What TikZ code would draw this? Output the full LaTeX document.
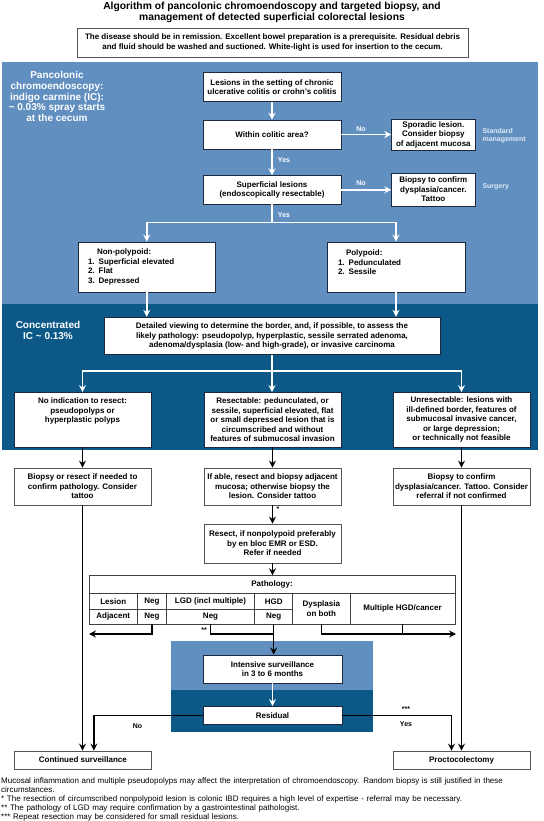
\documentclass[tikz,border=0pt]{standalone}
\usepackage{fontspec}
\setmainfont{Liberation Sans}
\usetikzlibrary{arrows.meta}
\definecolor{lightblu}{RGB}{97,143,192}
\definecolor{darkblu}{RGB}{12,89,135}
\definecolor{navyb}{RGB}{30,40,60}
\definecolor{grayb}{RGB}{85,85,85}
\definecolor{labblu}{RGB}{222,233,245}
\newcommand\bxfont{\fontsize{8}{9.5}\selectfont\bfseries}
\newcommand\lbfont{\fontsize{7}{8.5}\selectfont\bfseries}
\newcommand\blabfont{\fontsize{10}{10.8}\selectfont\bfseries}
\tikzset{
 bx/.style={draw=navyb, line width=0.9pt, fill=white, align=center, font=\bxfont, inner sep=1pt},
 gbx/.style={bx, draw=grayb},
 warr/.style={draw=white, line width=1.7pt, -{Stealth[length=7pt,width=7pt,inset=2.5pt]}},
 wln/.style={draw=white, line width=1.7pt},
 barr/.style={draw=black, line width=1.3pt, -{Stealth[length=7pt,width=7pt,inset=2.5pt]}},
 bln/.style={draw=black, line width=1.3pt},
 wlab/.style={text=white, font=\blabfont, align=center},
 slab/.style={text=white, font=\lbfont},
 klab/.style={text=black, font=\lbfont},
 cell/.style={draw=black!75, line width=0.7pt, fill=white, font=\bxfont, inner sep=0pt, align=center},
}
\begin{document}
\begin{tikzpicture}[x=1pt,y=-1pt]
\useasboundingbox (0,0) rectangle (543,821);
% background bands
\fill[lightblu] (2,62) rectangle (538,304);
\fill[darkblu] (2,304) rectangle (538,450);
\fill[lightblu] (171,641) rectangle (373,690);
\fill[darkblu] (171,690) rectangle (373,732);
% title and note
\node[font=\fontsize{10.3}{11}\selectfont\bfseries, align=center] (title) at (272,12)
 {Algorithm of pancolonic chromoendoscopy and targeted biopsy, and\\management of detected superficial colorectal lesions};
\node[gbx, minimum width=391pt, minimum height=29pt] (note) at (272.5,42.5)
 {The disease should be in remission. Excellent bowel preparation is a prerequisite. Residual debris\\and fluid should be washed and suctioned. White-light is used for insertion to the cecum.};
% side labels
\node[wlab] (pancol) at (57,96.5) {Pancolonic\\chromoendoscopy:\\indigo carmine (IC):\\\textasciitilde{} 0.03\% spray starts\\at the cecum};
\node[wlab] (conc) at (48,330.4) {Concentrated\\IC \textasciitilde{} 0.13\%};
% upper boxes
\node[bx, minimum width=138pt, minimum height=29pt] (lesions) at (272,87.2)
 {Lesions in the setting of chronic\\ulcerative colitis or crohn's colitis};
\node[bx, minimum width=138pt, minimum height=29pt] (within) at (272,134.5) {Within colitic area?};
\node[bx, minimum width=138pt, minimum height=28.3pt] (superficial) at (272,189.85)
 {Superficial lesions\\(endoscopically resectable)};
\node[bx, minimum width=83.3pt, minimum height=31.7pt] (sporadic) at (433.35,134.85)
 {Sporadic lesion.\\Consider biopsy\\of adjacent mucosa};
\node[bx, minimum width=83.3pt, minimum height=33pt] (biopsyT) at (433.35,189.5)
 {Biopsy to confirm\\dysplasia/cancer.\\Tattoo};
\node[slab, text=labblu, anchor=west, align=left] (stdm) at (479,135.5) {Standard\\management};
\node[slab, text=labblu, anchor=west] (surg) at (479,187) {Surgery};
\node[slab] (no1) at (361,129) {No};
\node[slab] (no2) at (361,183.5) {No};
\node[slab] (yes1) at (284,160) {Yes};
\node[slab] (yes2) at (284,215) {Yes};
\node[bx, align=left, text width=117.5pt, inner xsep=10pt, minimum height=50pt] (nonpoly) at (146.75,267)
 {\hspace*{9pt}Non-polypoid:\\1. Superficial elevated\\2. Flat\\3. Depressed};
\node[bx, align=left, text width=116pt, inner xsep=11pt, minimum height=50pt] (poly) at (396,267)
 {\hspace*{8pt}Polypoid:\\1. Pedunculated\\2. Sessile\\\mbox{}};
% concentrated zone
\node[bx, minimum width=336pt, minimum height=37.5pt] (detailed) at (272,336)
 {Detailed viewing to determine the border, and, if possible, to assess the\\likely pathology: pseudopolyp, hyperplastic, sessile serrated adenoma,\\adenoma/dysplasia (low- and high-grade), or invasive carcinoma};
\node[bx, minimum width=137pt, minimum height=54.5pt] (noind) at (82.5,419.75)
 {No indication to resect:\\pseudopolyps or\\hyperplastic polyps\\\mbox{}\\\mbox{}};
\node[bx, minimum width=137pt, minimum height=54.5pt] (resect1) at (272.5,419.75)
 {Resectable: pedunculated, or\\sessile, superficial elevated, flat\\or small depressed lesion that is\\circumscribed and without\\features of submucosal invasion};
\node[bx, minimum width=137pt, minimum height=54.5pt] (unres) at (461.5,419.75)
 {Unresectable: lesions with\\ill-defined border, features of\\submucosal invasive cancer,\\or large depression;\\or technically not feasible};
% lower boxes
\node[gbx, minimum width=137pt, minimum height=37pt] (biopsy1) at (82.5,486.5)
 {Biopsy or resect if needed to\\confirm pathology. Consider\\tattoo};
\node[gbx, minimum width=137pt, minimum height=37pt] (ifable) at (272.5,486.5)
 {If able, resect and biopsy adjacent\\mucosa; otherwise biopsy the\\lesion. Consider tattoo};
\node[gbx, minimum width=137pt, minimum height=37pt] (biopsy3) at (461.5,486.5)
 {Biopsy to confirm\\dysplasia/cancer. Tattoo. Consider\\referral if not confirmed};
\node[gbx, minimum width=137pt, minimum height=39pt] (resect2) at (272.5,543.5)
 {Resect, if nonpolypoid preferably\\by en bloc EMR or ESD.\\Refer if needed};
\node[klab] (star1) at (278,509) {*};
% pathology table
\node[cell, minimum width=366pt, minimum height=17.4pt] (ptitle) at (272,584.3) {Pathology:};
\node[cell, minimum width=48.5pt, minimum height=16.5pt] (tlesion) at (113.25,601.25) {Lesion};
\node[cell, minimum width=29pt, minimum height=16.5pt] (tneg1) at (152,601.25) {Neg};
\node[cell, minimum width=88.1pt, minimum height=16.5pt] (tlgd) at (210.55,601.25) {LGD (incl multiple)};
\node[cell, minimum width=38.1pt, minimum height=16.5pt] (thgd) at (273.65,601.25) {HGD};
\node[cell, minimum width=48.5pt, minimum height=14.5pt] (tadj) at (113.25,616.75) {Adjacent};
\node[cell, minimum width=29pt, minimum height=14.5pt] (tneg2) at (152,616.75) {Neg};
\node[cell, minimum width=88.1pt, minimum height=14.5pt] (tneg3) at (210.55,616.75) {Neg};
\node[cell, minimum width=38.1pt, minimum height=14.5pt] (tneg4) at (273.65,616.75) {Neg};
\node[cell, minimum width=57.3pt, minimum height=31pt] (tdysp) at (321.35,608.5) {Dysplasia\\on both};
\node[cell, minimum width=105pt, minimum height=31pt] (tmulti) at (402.5,608.5) {Multiple HGD/cancer};
\node[klab] (star2) at (204,630) {**};
% surveillance zone
\node[bx, minimum width=139pt, minimum height=28pt] (intensive) at (272.5,669)
 {Intensive surveillance\\in 3 to 6 months};
\node[bx, minimum width=139pt, minimum height=17.5pt] (residual) at (272.5,715.25) {Residual};
\node[klab] (no3) at (137.5,726) {No};
\node[klab] (yes3) at (406,724) {Yes};
\node[klab] (star3) at (406,709) {***};
\node[gbx, minimum width=137.7pt, minimum height=18pt] (cont) at (82.85,760) {Continued surveillance};
\node[gbx, minimum width=137pt, minimum height=18pt] (procto) at (461.5,760) {Proctocolectomy};
% footnotes
\node[anchor=north west, inner sep=0pt, text width=542pt, align=left, font=\fontsize{8}{9}\selectfont] (foot) at (1,777.3)
 {Mucosal inflammation and multiple pseudopolyps may affect the interpretation of chromoendoscopy. Random biopsy is still justified in these\\circumstances.\\{}* The resection of circumscribed nonpolypoid lesion is colonic IBD requires a high level of expertise - referral may be necessary.\\{}** The pathology of LGD may require confirmation by a gastrointestinal pathologist.\\{}*** Repeat resection may be considered for small residual lesions.};
% white connectors
\draw[warr] (lesions) -- (within);
\draw[warr] (within) -- (superficial);
\draw[warr] (within.east) -- (within.east -| sporadic.west);
\draw[warr] (superficial.east) -- (superficial.east -| biopsyT.west);
\coordinate (s1) at (272,222.5);
\draw[wln] (superficial) -- (s1);
\draw[warr] (s1) -| (nonpoly.north);
\draw[warr] (s1) -| (poly.north);
\draw[warr] (nonpoly.south) -- (nonpoly.south |- detailed.north);
\draw[warr] (poly.south) -- (poly.south |- detailed.north);
\coordinate (s2) at (272,371);
\draw[wln] (detailed) -- (s2);
\draw[warr] (s2) -| (noind.north);
\draw[warr] (s2) -- (s2 |- resect1.north);
\draw[warr] (s2) -| (unres.north);
% black connectors
\draw[barr] (noind) -- (biopsy1);
\draw[barr] (resect1) -- (ifable);
\draw[barr] (unres) -- (biopsy3);
\draw[barr] (ifable) -- (resect2);
\draw[barr] (resect2.south) -- (resect2.south |- ptitle.north);
\draw[barr] (biopsy1) -- (biopsy1 |- cont.north);
\draw[barr] (biopsy3) -- (biopsy3 |- procto.north);
\coordinate (ltip) at (89,634);
\coordinate (mj) at (273.65,634);
\coordinate (rtip) at (456,634);
\draw[barr] (tneg2.south) |- (ltip);
\draw[bln] (tneg3.south) |- (mj);
\draw[barr] (tneg4.south) -- (tneg4.south |- intensive.north);
\draw[barr] (tdysp.south) |- (rtip);
\draw[bln] (tmulti.south) -- (tmulti.south |- rtip);
\draw[warr] (intensive) -- (residual);
\draw[barr] (residual.west) -| ([xshift=11pt]cont.north);
\draw[barr] (residual.east) -| ([xshift=-10pt]procto.north);
\end{tikzpicture}
\end{document}
